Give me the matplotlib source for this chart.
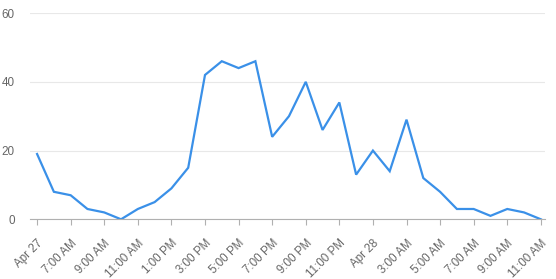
import numpy as np
import matplotlib.pyplot as plt

plt.rcParams['font.family'] = ['Liberation Sans', 'DejaVu Sans']

# hourly counts, Apr 27 5:00 AM .. Apr 28 11:00 AM
counts = [19, 8, 7, 3, 2, 0, 3, 5, 9, 15, 42, 46, 44, 46, 24, 30, 40, 26, 34,
          13, 20, 14, 29, 12, 8, 3, 3, 1, 3, 2, 0]
tick_labels = ["Apr 27", "7:00 AM", "9:00 AM", "11:00 AM", "1:00 PM", "3:00 PM",
               "5:00 PM", "7:00 PM", "9:00 PM", "11:00 PM", "Apr 28", "3:00 AM",
               "5:00 AM", "7:00 AM", "9:00 AM", "11:00 AM"]
y_ticks = [0, 20, 40, 60]

fig = plt.figure(figsize=(5.56, 2.79), dpi=100)
ax = fig.add_axes([0.054, 0.214, 0.926, 0.739])

x = np.arange(len(counts))
ax.plot(x, counts, color='#3a90e8', lw=1.6, solid_joinstyle='miter')

ax.set_xlim(-0.42, len(counts) - 1 + 0.24)
ax.set_ylim(0, 60)
ax.set_yticks(y_ticks)
ax.grid(axis='y', color='#e8e8e8', lw=0.8)
ax.set_axisbelow(True)

ax.set_xticks(np.arange(0, len(counts), 2))
ax.set_xticklabels(tick_labels, rotation=45, ha='right', rotation_mode='anchor')

for s in ['top', 'right', 'left']:
    ax.spines[s].set_visible(False)
ax.spines['bottom'].set_color('#b0b0b0')
ax.tick_params(axis='x', colors='#b0b0b0', length=4, labelcolor='#666666',
               labelsize=8.4, pad=9)
ax.tick_params(axis='y', length=0, labelcolor='#666666', labelsize=8.4, pad=11)

fig.savefig('out.png', dpi=100)
